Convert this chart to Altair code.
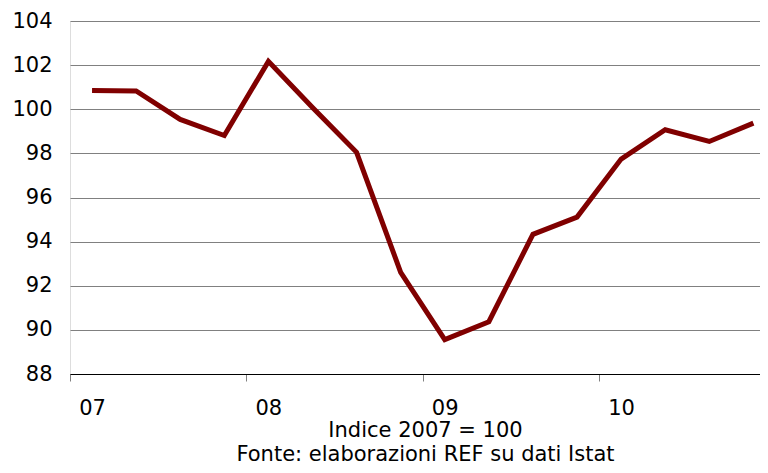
import altair as alt
import pandas as pd

quarters = ["2007 T1", "2007 T2", "2007 T3", "2007 T4",
            "2008 T1", "2008 T2", "2008 T3", "2008 T4",
            "2009 T1", "2009 T2", "2009 T3", "2009 T4",
            "2010 T1", "2010 T2", "2010 T3", "2010 T4"]
values = [100.85, 100.83, 99.54, 98.81,
          102.17, 100.08, 98.05, 92.61,
          89.56, 90.37, 94.33, 95.11,
          97.74, 99.07, 98.54, 99.37]
year_tick_index = [0, 4, 8, 12]
year_labels = ["07", "08", "09", "10"]
y_ticks = [88, 90, 92, 94, 96, 98, 100, 102, 104]

df = pd.DataFrame({"quarter": quarters, "idx": list(range(len(quarters))), "value": values})

FONT = "DejaVu Sans"
label_expr = "[" + ",".join("'" + s + "'" for s in year_labels) + "][datum.value / 4]"

chart = (
    alt.Chart(df)
    .transform_calculate(pos="datum.idx + 0.5")
    .mark_line(color="#800000", strokeWidth=5, strokeJoin="miter", strokeCap="butt")
    .encode(
        x=alt.X(
            "pos:Q",
            scale=alt.Scale(domain=[0, 15.65], nice=False, zero=False),
            axis=alt.Axis(
                values=year_tick_index,
                labelExpr=label_expr,
                grid=False,
                domain=True,
                domainColor="#000000",
                domainWidth=1,
                ticks=True,
                tickSize=7,
                tickColor="#808080",
                tickWidth=1,
                labelOffset=22,
                labelAlign="center",
                labelBaseline="alphabetic",
                labelPadding=33,
                labelFont=FONT,
                labelFontSize=21,
                labelColor="#000000",
                title=["Indice 2007 = 100", "Fonte: elaborazioni REF su dati Istat"],
                titleFont=FONT,
                titleFontSize=21,
                titleFontWeight="normal",
                titleColor="#000000",
                titleLineHeight=24,
                titleBaseline="alphabetic",
                titleAlign="center",
                titleX=355,
                titleY=62.4,
            ),
        ),
        y=alt.Y(
            "value:Q",
            scale=alt.Scale(domain=[88, 104], nice=False, zero=False),
            axis=alt.Axis(
                values=y_ticks,
                grid=True,
                gridColor="#808080",
                gridWidth=1,
                domain=False,
                ticks=False,
                labelPadding=18,
                labelFont=FONT,
                labelFontSize=21,
                labelColor="#000000",
                title=None,
            ),
        ),
    )
    .properties(
        width=690,
        height=353,
        autosize=alt.AutoSizeParams(type="none"),
        padding={"left": 62, "top": 13, "right": 0, "bottom": 91},
    )
    .configure_view(stroke=None)
    .configure(background="#ffffff")
)

chart.save("out.html", embed_options={"renderer": "svg", "actions": False})
